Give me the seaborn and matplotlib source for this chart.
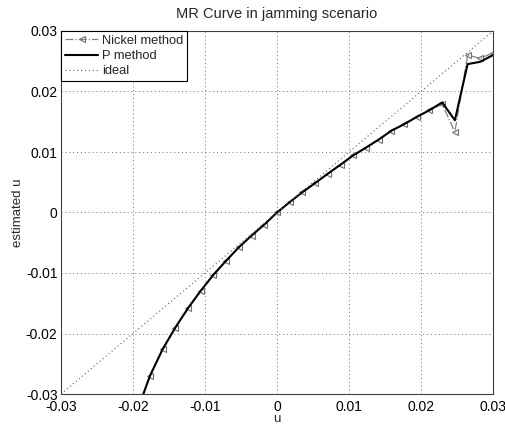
import numpy as np
import pandas as pd
import matplotlib
matplotlib.use("Agg")
import matplotlib.pyplot as plt
import seaborn as sns

# x grid: 35 samples from -0.03 to 0.03 (visible ones start at index 6)
u_vals = [-0.019412, -0.017647, -0.015882, -0.014118, -0.012353, -0.010588,
          -0.008824, -0.007059, -0.005294, -0.003529, -0.001765, 0.0,
          0.001765, 0.003529, 0.005294, 0.007059, 0.008824, 0.010588,
          0.012353, 0.014118, 0.015882, 0.017647, 0.019412, 0.021176,
          0.022941, 0.024706, 0.026471, 0.028235, 0.03]
nickel_vals = [-0.0328, -0.0270, -0.02259, -0.01901, -0.0158, -0.01293,
               -0.01028, -0.00796, -0.00575, -0.00381, -0.00199, 0.0,
               0.00171, 0.00336, 0.00486, 0.00641, 0.00791, 0.00945,
               0.01072, 0.01205, 0.01351, 0.01459, 0.0158, 0.01691,
               0.0179, 0.01331, 0.02602, 0.02548, 0.02641]
p_vals = [-0.0328, -0.0270, -0.02259, -0.01901, -0.0158, -0.01293,
          -0.01028, -0.00796, -0.00575, -0.00381, -0.00199, 0.0,
          0.00171, 0.00336, 0.00486, 0.00641, 0.00791, 0.00945,
          0.01072, 0.01205, 0.01351, 0.01459, 0.0158, 0.01691,
          0.0182, 0.01525, 0.02453, 0.02491, 0.02602]
ideal_x = [-0.03, 0.03]
ideal_y = [-0.03, 0.03]
ticks = [-0.03, -0.02, -0.01, 0.0, 0.01, 0.02, 0.03]
tick_labels = ["-0.03", "-0.02", "-0.01", "0", "0.01", "0.02", "0.03"]

sns.set_style("white")
plt.rcParams['font.family'] = ['Liberation Sans', 'DejaVu Sans']

fig = plt.figure(figsize=(5.05, 4.24), dpi=100)
L, R, T, B = 61, 493, 31, 394
ax = fig.add_axes([L / 505, 1 - B / 424, (R - L) / 505, (B - T) / 424])

df_n = pd.DataFrame({"u": u_vals, "est": nickel_vals})
df_p = pd.DataFrame({"u": u_vals, "est": p_vals})
df_i = pd.DataFrame({"u": ideal_x, "est": ideal_y})

sns.lineplot(data=df_n, x="u", y="est", ax=ax, color="#808080",
             linestyle="-.", linewidth=0.9, marker="<", markersize=5,
             markerfacecolor="none", markeredgecolor="#707070",
             markeredgewidth=0.8, label="Nickel method", sort=False)
sns.lineplot(data=df_p, x="u", y="est", ax=ax, color="black",
             linestyle="-", linewidth=1.5, label="P method", sort=False)
sns.lineplot(data=df_i, x="u", y="est", ax=ax, color="#606060",
             linestyle=(0, (1, 2.5)), linewidth=0.8, label="ideal", sort=False)

ax.set_xlim(-0.03, 0.03)
ax.set_ylim(-0.03, 0.03)
ax.set_xticks(ticks)
ax.set_xticklabels(tick_labels)
ax.set_yticks(ticks)
ax.set_yticklabels(tick_labels)
ax.tick_params(direction="in", length=4, labelsize=10, color="#404040",
               labelcolor="black")
ax.tick_params(axis="x", pad=4.5)
ax.tick_params(axis="y", pad=2.5)
ax.grid(True, linestyle=(0, (1, 3)), color="#707070", linewidth=0.7)
for s in ax.spines.values():
    s.set_color("#404040")
    s.set_linewidth(0.8)

ax.set_title("MR Curve in jamming scenario", fontsize=10.5, pad=9.5)
ax.set_xlabel("u", fontsize=9.5, labelpad=-1)
ax.set_ylabel("estimated u", fontsize=9.5, labelpad=1.5)

leg = ax.legend(loc="upper left", borderaxespad=0, fancybox=False,
                edgecolor="black", framealpha=1, fontsize=9.3,
                handlelength=2.6, handletextpad=0.3, borderpad=0.3,
                labelspacing=0.25)
leg.get_frame().set_linewidth(0.8)

fig.savefig("out.png", dpi=100)
